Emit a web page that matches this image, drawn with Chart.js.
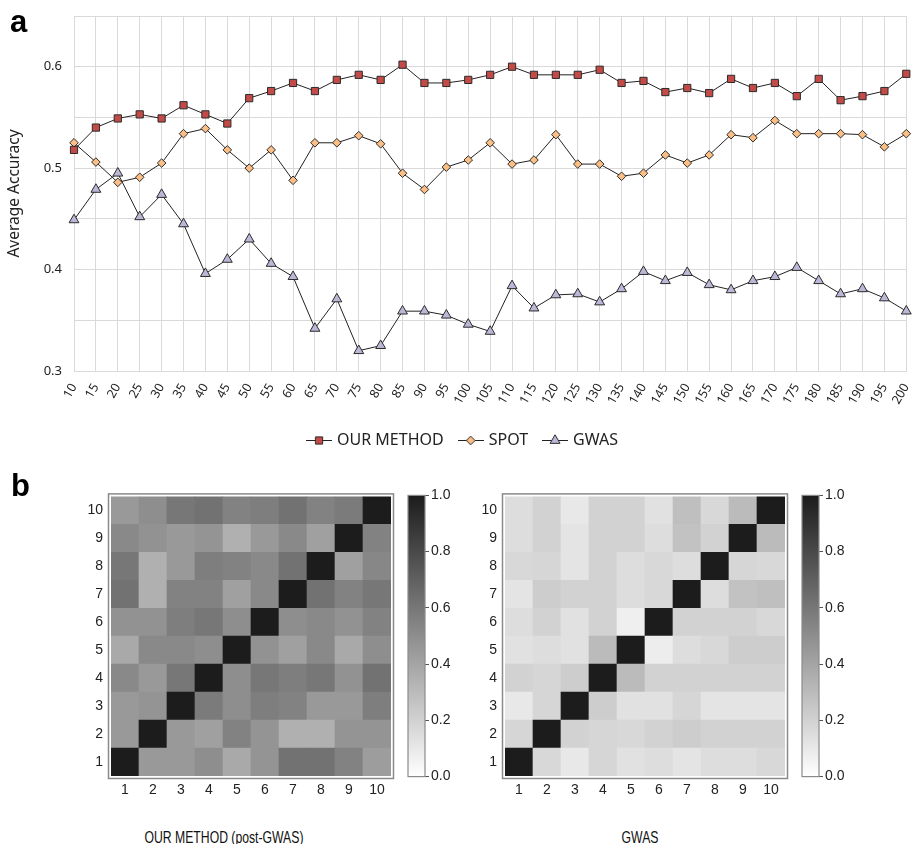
<!DOCTYPE html>
<html>
<head>
<meta charset="utf-8">
<title>Average accuracy and correlation heatmaps</title>
<script src="https://cdn.jsdelivr.net/npm/chart.js@4.4.1/dist/chart.umd.min.js"></script>
<style>
  body { margin: 0; background: #fff; }
  #page { position: relative; width: 913px; height: 844px; overflow: hidden; }
  canvas, .txt { position: absolute; }
  .panel { font: bold 31px "Liberation Sans", Arial, sans-serif; color: #000; line-height: 1; }
  .caption { font: 16.5px "Liberation Sans", Arial, sans-serif; color: #111; text-align: center; width: 300px; line-height: 1; transform: scaleX(0.74); }
</style>
</head>
<body>
<div id="page">
  <canvas id="lineChart" width="913" height="458" style="left:0;top:0"></canvas>
  <canvas id="heatOurs" width="324" height="326" style="left:71px;top:480px"></canvas>
  <canvas id="barOurs" width="53" height="302" style="left:404px;top:485px"></canvas>
  <canvas id="heatGwas" width="324" height="326" style="left:465px;top:480px"></canvas>
  <canvas id="barGwas" width="53" height="302" style="left:798px;top:485px"></canvas>
  <div class="txt panel" style="left:10px;top:6px">a</div>
  <div class="txt panel" style="left:11px;top:470px">b</div>
  <div class="txt caption" style="left:74px;top:829px">OUR METHOD (post-GWAS)</div>
  <div class="txt caption" style="left:490px;top:829px">GWAS</div>
</div>

<script>
// panel a: number of markers vs average accuracy
const sampleSizes = ['10', '15', '20', '25', '30', '35', '40', '45', '50', '55', '60', '65', '70',
  '75', '80', '85', '90', '95', '100', '105', '110', '115', '120', '125', '130', '135', '140',
  '145', '150', '155', '160', '165', '170', '175', '180', '185', '190', '195', '200'];

const ourMethod = [0.518, 0.540, 0.549, 0.553, 0.549, 0.562, 0.553, 0.544, 0.569, 0.576, 0.584,
  0.576, 0.587, 0.592, 0.587, 0.602, 0.584, 0.584, 0.587, 0.592, 0.600, 0.592, 0.592, 0.592,
  0.597, 0.584, 0.586, 0.575, 0.579, 0.574, 0.588, 0.579, 0.584, 0.571, 0.588, 0.567, 0.571,
  0.576, 0.593];

const spot = [0.525, 0.506, 0.486, 0.491, 0.505, 0.534, 0.539, 0.518, 0.500, 0.518, 0.488,
  0.525, 0.525, 0.532, 0.524, 0.495, 0.479, 0.501, 0.508, 0.525, 0.504, 0.508, 0.533, 0.504,
  0.504, 0.492, 0.495, 0.513, 0.505, 0.513, 0.533, 0.530, 0.547, 0.534, 0.534, 0.534, 0.533,
  0.521, 0.534];

const gwas = [0.449, 0.479, 0.495, 0.452, 0.474, 0.445, 0.396, 0.410, 0.430, 0.406, 0.393,
  0.342, 0.371, 0.320, 0.325, 0.359, 0.359, 0.355, 0.346, 0.339, 0.384, 0.362, 0.375, 0.376,
  0.368, 0.381, 0.398, 0.389, 0.397, 0.385, 0.380, 0.389, 0.393, 0.402, 0.389, 0.376, 0.381,
  0.372, 0.359];

// panel b: correlation matrices, row 1 (bottom) to row 10 (top)
const cellLabels = ['1', '2', '3', '4', '5', '6', '7', '8', '9', '10'];

const ourCorr = [
  [1.00, 0.45, 0.45, 0.50, 0.38, 0.47, 0.62, 0.62, 0.55, 0.43],
  [0.45, 1.00, 0.45, 0.42, 0.55, 0.47, 0.35, 0.35, 0.47, 0.47],
  [0.45, 0.47, 1.00, 0.58, 0.50, 0.57, 0.55, 0.45, 0.45, 0.57],
  [0.52, 0.45, 0.60, 1.00, 0.50, 0.60, 0.57, 0.60, 0.48, 0.62],
  [0.38, 0.52, 0.52, 0.50, 1.00, 0.48, 0.42, 0.52, 0.38, 0.50],
  [0.48, 0.48, 0.57, 0.60, 0.50, 1.00, 0.50, 0.52, 0.48, 0.55],
  [0.62, 0.35, 0.55, 0.55, 0.42, 0.52, 1.00, 0.62, 0.55, 0.60],
  [0.60, 0.35, 0.45, 0.57, 0.55, 0.52, 0.62, 1.00, 0.42, 0.53],
  [0.52, 0.48, 0.45, 0.47, 0.35, 0.45, 0.52, 0.42, 1.00, 0.55],
  [0.45, 0.50, 0.60, 0.62, 0.55, 0.57, 0.62, 0.55, 0.58, 1.00]
];

const gwasCorr = [
  [1.00, 0.17, 0.10, 0.18, 0.13, 0.15, 0.12, 0.15, 0.15, 0.17],
  [0.18, 1.00, 0.20, 0.18, 0.17, 0.20, 0.22, 0.20, 0.20, 0.20],
  [0.10, 0.18, 1.00, 0.22, 0.13, 0.13, 0.18, 0.12, 0.12, 0.12],
  [0.20, 0.18, 0.22, 1.00, 0.30, 0.20, 0.20, 0.20, 0.20, 0.20],
  [0.13, 0.15, 0.13, 0.30, 1.00, 0.08, 0.15, 0.17, 0.22, 0.22],
  [0.15, 0.20, 0.13, 0.20, 0.07, 1.00, 0.20, 0.20, 0.20, 0.17],
  [0.12, 0.22, 0.20, 0.20, 0.15, 0.17, 1.00, 0.15, 0.27, 0.28],
  [0.17, 0.18, 0.12, 0.20, 0.15, 0.17, 0.15, 1.00, 0.18, 0.17],
  [0.15, 0.20, 0.12, 0.20, 0.20, 0.15, 0.27, 0.20, 1.00, 0.30],
  [0.15, 0.20, 0.10, 0.20, 0.20, 0.13, 0.28, 0.17, 0.30, 1.00]
];

const inkColor = '#222';
const gridGray = '#d9d9d9';
const markerEdge = '#2b2b2b';
const lineFont = { family: '"Noto Sans", "Open Sans", sans-serif', size: 13 };
const heatFont = { family: '"Liberation Sans", Arial, sans-serif', size: 14 };

// white (0) -> near black (1)
function grayOf(v) {
  const g = Math.round(255 - v * 227);
  return 'rgb(' + g + ',' + g + ',' + g + ')';
}

// gray box around the chart area
const framePlugin = {
  id: 'frame',
  afterDatasetsDraw(chart, args, opts) {
    const a = chart.chartArea;
    const gap = opts.gap || 0;
    const ctx = chart.ctx;
    ctx.save();
    ctx.strokeStyle = opts.color;
    ctx.lineWidth = opts.width;
    ctx.strokeRect(a.left - gap, a.top - gap, a.right - a.left + 2 * gap, a.bottom - a.top + 2 * gap);
    ctx.restore();
  }
};

// nudge the legend row to the right, like the original figure
const legendShift = {
  id: 'legendShift',
  afterLayout(chart, args, opts) {
    chart.legend.left += opts.dx;
    chart.legend.right += opts.dx;
  }
};

// legend symbol: short line with the marker in the middle
function legendIcon(style, fill, radius) {
  const c = document.createElement('canvas');
  c.width = 26;
  c.height = 16;
  const g = c.getContext('2d');
  g.strokeStyle = inkColor;
  g.lineWidth = 1;
  g.beginPath();
  g.moveTo(0, 8.5);
  g.lineTo(26, 8.5);
  g.stroke();
  g.fillStyle = fill;
  g.strokeStyle = markerEdge;
  Chart.helpers.drawPoint(g, { pointStyle: style, radius: radius, borderWidth: 1, rotation: 0 }, 13, 8.5);
  return c;
}

const seriesStyles = [
  { label: 'OUR METHOD', data: ourMethod, style: 'rect', fill: '#c24b48', radius: 5.1 },
  { label: 'SPOT', data: spot, style: 'rectRot', fill: '#fbbf85', radius: 4.3 },
  { label: 'GWAS', data: gwas, style: 'triangle', fill: '#bcb7d6', radius: 5.7 }
];
const legendIcons = seriesStyles.map(s => legendIcon(s.style, s.fill, s.radius));

new Chart(document.getElementById('lineChart'), {
  type: 'line',
  data: {
    labels: sampleSizes,
    datasets: seriesStyles.map(s => ({
      label: s.label,
      data: s.data,
      borderColor: inkColor,
      borderWidth: 1,
      tension: 0,
      pointStyle: s.style,
      pointRadius: s.radius,
      pointBackgroundColor: s.fill,
      pointBorderColor: markerEdge,
      pointBorderWidth: 1,
      clip: false
    }))
  },
  options: {
    responsive: false,
    animation: false,
    layout: { padding: { top: 16, right: 4, left: 0, bottom: 0 } },
    plugins: {
      tooltip: { enabled: false },
      legendShift: { dx: 9 },
      legend: {
        position: 'bottom',
        labels: {
          usePointStyle: true,
          pointStyleWidth: 20,
          padding: 17,
          color: inkColor,
          font: { family: lineFont.family, size: 16 },
          generateLabels: chart => chart.data.datasets.map((ds, i) => ({
            text: ds.label,
            pointStyle: legendIcons[i],
            datasetIndex: i,
            hidden: false,
            fontColor: inkColor,
            lineWidth: 0
          }))
        }
      }
    },
    scales: {
      x: {
        grid: { color: gridGray, drawTicks: false },
        border: { color: gridGray },
        ticks: {
          minRotation: 60, maxRotation: 60, autoSkip: false, padding: 10,
          color: inkColor, font: { family: lineFont.family, size: 12.5 }
        },
        afterFit: s => { s.height = 44; s.paddingRight = 0; s.paddingLeft = 0; }
      },
      y: {
        min: 0.3,
        max: 0.65,
        grid: { color: gridGray, drawTicks: false },
        border: { color: gridGray },
        ticks: {
          stepSize: 0.05,
          padding: 12,
          color: inkColor,
          font: lineFont,
          callback: v => (Math.round(v * 100) % 10 === 0 ? v.toFixed(1) : '')
        },
        title: {
          display: true,
          text: 'Average Accuracy',
          color: inkColor,
          font: { family: lineFont.family, size: 15.5 },
          padding: { top: 5, bottom: 0 }
        },
        afterFit: s => { s.width = 74; s.paddingTop = 0; s.paddingBottom = 0; }
      }
    }
  },
  plugins: [legendShift]
});

function drawHeatmap(canvasId, matrix) {
  new Chart(document.getElementById(canvasId), {
    type: 'bar',
    data: {
      labels: cellLabels,
      datasets: matrix.map((row, r) => ({
        label: cellLabels[r],
        data: row.map(() => 1),
        backgroundColor: row.map(grayOf),
        borderWidth: 0,
        barPercentage: 1,
        categoryPercentage: 1
      }))
    },
    options: {
      responsive: false,
      animation: false,
      layout: { padding: { top: 16, right: 4, left: 0, bottom: 0 } },
      plugins: {
        legend: { display: false },
        tooltip: { enabled: false },
        frame: { gap: 2.5, color: '#8a8a8a', width: 1.5 }
      },
      scales: {
        x: {
          stacked: true,
          grid: { display: false, drawTicks: false },
          border: { display: false },
          ticks: { color: inkColor, font: heatFont, padding: 6 },
          afterFit: s => { s.height = 30; }
        },
        y: {
          stacked: true,
          min: 0,
          max: 10,
          grid: { display: false, drawTicks: false },
          border: { display: false },
          afterBuildTicks: s => { s.ticks = cellLabels.map((l, i) => ({ value: i + 0.5 })); },
          ticks: { color: inkColor, font: heatFont, padding: 8, callback: (v, i) => cellLabels[i] },
          afterFit: s => { s.width = 40; }
        }
      }
    },
    plugins: [framePlugin]
  });
}

function drawColorbar(canvasId) {
  new Chart(document.getElementById(canvasId), {
    type: 'bar',
    data: {
      labels: [''],
      datasets: [{
        data: [1],
        borderWidth: 0,
        barPercentage: 1,
        categoryPercentage: 1,
        backgroundColor: c => {
          const a = c.chart.chartArea;
          if (!a) return null;
          const grad = c.chart.ctx.createLinearGradient(0, a.bottom, 0, a.top);
          grad.addColorStop(0, grayOf(0));
          grad.addColorStop(1, grayOf(1));
          return grad;
        }
      }]
    },
    options: {
      responsive: false,
      animation: false,
      layout: { padding: { top: 9, left: 4, right: 0, bottom: 9 } },
      plugins: {
        legend: { display: false },
        tooltip: { enabled: false },
        frame: { gap: 0, color: '#8a8a8a', width: 1.2 }
      },
      scales: {
        x: { display: false },
        y: {
          position: 'right',
          min: 0,
          max: 1,
          grid: { drawOnChartArea: false, tickLength: 4, color: '#555' },
          border: { display: false },
          ticks: { stepSize: 0.2, padding: 2, color: inkColor, font: heatFont, callback: v => v.toFixed(1) },
          afterFit: s => { s.width = 32; }
        }
      }
    },
    plugins: [framePlugin]
  });
}

drawHeatmap('heatOurs', ourCorr);
drawColorbar('barOurs');
drawHeatmap('heatGwas', gwasCorr);
drawColorbar('barGwas');
</script>
</body>
</html>
